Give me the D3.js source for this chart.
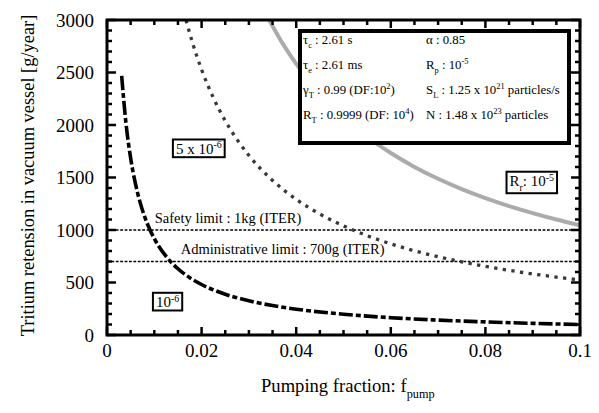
<!DOCTYPE html>
<html>
<head>
<meta charset="utf-8">
<script src="https://cdn.jsdelivr.net/npm/d3@7"></script>
<style>
  body { margin: 0; background: #fff; }
</style>
</head>
<body>
<div id="chart"></div>
<script>
// Tritium retention vs pumping fraction, one series per R_r value
const fpump6 = [0.0031, 0.004, 0.005, 0.006, 0.007, 0.008, 0.009, 0.01, 0.0125, 0.015, 0.0175, 0.02, 0.025, 0.03, 0.035, 0.04, 0.05, 0.06, 0.07, 0.08, 0.09, 0.1];
const retention6 = [2467, 2022, 1684, 1443, 1263, 1122, 1010, 918, 748, 631, 546, 481, 388, 326, 280, 246, 198, 165, 142, 125, 111, 100];

const fpump5x6 = [0.0167, 0.018, 0.02, 0.0225, 0.025, 0.0275, 0.03, 0.035, 0.04, 0.045, 0.05, 0.055, 0.06, 0.065, 0.07, 0.075, 0.08, 0.085, 0.09, 0.095, 0.1];
const retention5x6 = [3000, 2795, 2527, 2258, 2040, 1861, 1710, 1472, 1292, 1152, 1039, 946, 868, 802, 746, 697, 654, 616, 582, 551, 524];

const fpump5 = [0.0343, 0.036, 0.038, 0.04, 0.045, 0.05, 0.055, 0.06, 0.065, 0.07, 0.075, 0.08, 0.085, 0.09, 0.095, 0.1];
const retention5 = [3000, 2863, 2715, 2582, 2300, 2074, 1888, 1733, 1601, 1488, 1390, 1304, 1228, 1161, 1100, 1045];

const limits = [1000, 700];
const limitLabels = ['Safety limit : 1kg (ITER)', 'Administrative limit : 700g (ITER)'];

const xTicks = [0, 0.02, 0.04, 0.06, 0.08, 0.1];
const xTickLabels = ['0', '0.02', '0.04', '0.06', '0.08', '0.1'];
const yTicks = [0, 500, 1000, 1500, 2000, 2500, 3000];

const largura = 599, altura = 413;
const m = { left: 107, right: 580, top: 20, bottom: 335 };
const fonte = "'Liberation Serif', 'Times New Roman', serif";

const svg = d3.select('#chart').append('svg')
    .attr('width', largura)
    .attr('height', altura)
    .attr('viewBox', '0 0 ' + largura + ' ' + altura)
    .attr('font-family', fonte);

const x = d3.scaleLinear().domain([0, 0.1]).range([m.left, m.right]);
const y = d3.scaleLinear().domain([0, 3000]).range([m.bottom, m.top]);

// rich text helper: parts = [[text, 'n' | 'sub' | 'sup'], ...]
const rich = (g, px, py, parts, size, anchor) => {
    const t = g.append('text')
        .attr('x', px).attr('y', py)
        .attr('font-size', size)
        .attr('text-anchor', anchor || 'start');
    let shift = 0;
    parts.forEach(([s, kind]) => {
        let target = 0;
        if (kind === 'sub') target = size * 0.32;
        if (kind === 'sup') target = -size * 0.38;
        t.append('tspan')
            .attr('dy', target - shift)
            .attr('font-size', kind === 'n' ? size : size * 0.66)
            .text(s);
        shift = target;
    });
    return t;
};

svg.append('defs').append('clipPath').attr('id', 'plot')
    .append('rect')
    .attr('x', m.left).attr('y', m.top)
    .attr('width', m.right - m.left).attr('height', m.bottom - m.top);

// limit lines
svg.append('g').selectAll('line')
    .data(limits)
    .enter()
    .append('line')
    .attr('x1', m.left).attr('x2', m.right)
    .attr('y1', d => y(d)).attr('y2', d => y(d))
    .attr('stroke', '#000')
    .attr('stroke-width', 1.6)
    .attr('stroke-dasharray', '2.8,1.6');

// curves
const linha = d3.line()
    .x(d => x(d[0]))
    .y(d => y(d[1]))
    .curve(d3.curveMonotoneX);

const curvas = svg.append('g').attr('clip-path', 'url(#plot)');

curvas.append('path')
    .attr('d', linha(d3.zip(fpump5, retention5)))
    .attr('fill', 'none')
    .attr('stroke', '#ababab')
    .attr('stroke-width', 4);

curvas.append('path')
    .attr('d', linha(d3.zip(fpump5x6, retention5x6)))
    .attr('fill', 'none')
    .attr('stroke', '#383838')
    .attr('stroke-width', 3.3)
    .attr('stroke-dasharray', '3.3,5.4');

curvas.append('path')
    .attr('d', linha(d3.zip(fpump6, retention6)))
    .attr('fill', 'none')
    .attr('stroke', '#000')
    .attr('stroke-width', 3.6)
    .attr('stroke-dasharray', '14,3,5,3');

// limit labels
rich(svg, x(0.0101), y(1067), [[limitLabels[0], 'n']], 14.5);
rich(svg, x(0.0156), y(771), [[limitLabels[1], 'n']], 14.5);

// boxed curve labels
const boxLabel = (fx, vy, parts) => {
    const g = svg.append('g');
    const r = g.append('rect');
    const t = rich(g, x(fx), vy, parts, 15, 'middle');
    const b = t.node().getBBox();
    r.attr('x', b.x - 3).attr('y', b.y)
        .attr('width', b.width + 6).attr('height', b.height)
        .attr('fill', '#fff')
        .attr('stroke', '#000')
        .attr('stroke-width', 2);
};
boxLabel(0.0128, y(262), [['10', 'n'], ['-6', 'sup']]);
boxLabel(0.0194, y(1722), [['5 x 10', 'n'], ['-6', 'sup']]);
boxLabel(0.0898, y(1415), [['R', 'n'], ['r', 'sub'], [': 10', 'n'], ['-5', 'sup']]);

// parameter box
const leg = svg.append('g');
leg.append('rect')
    .attr('x', 300).attr('y', 31)
    .attr('width', 269).attr('height', 112)
    .attr('fill', '#fff')
    .attr('stroke', '#000')
    .attr('stroke-width', 4);
const col1 = 303, col2 = 426;
const linhas = [44, 68.5, 94, 119];
const fs = 12.8;
rich(leg, col1, linhas[0], [['τ', 'n'], ['c', 'sub'], [' : 2.61 s', 'n']], fs);
rich(leg, col2, linhas[0], [['α : 0.85', 'n']], fs);
rich(leg, col1, linhas[1], [['τ', 'n'], ['e', 'sub'], [' : 2.61 ms', 'n']], fs);
rich(leg, col2, linhas[1], [['R', 'n'], ['p', 'sub'], [' : 10', 'n'], ['-5', 'sup']], fs);
rich(leg, col1, linhas[2], [['γ', 'n'], ['T', 'sub'], [' : 0.99 (DF:10', 'n'], ['2', 'sup'], [')', 'n']], fs);
rich(leg, col2, linhas[2], [['S', 'n'], ['L', 'sub'], [' : 1.25 x 10', 'n'], ['21', 'sup'], [' particles/s', 'n']], fs);
rich(leg, col1, linhas[3], [['R', 'n'], ['T', 'sub'], [' : 0.9999 (DF: 10', 'n'], ['4', 'sup'], [')', 'n']], fs);
rich(leg, col2, linhas[3], [['N : 1.48 x 10', 'n'], ['23', 'sup'], [' particles', 'n']], fs);

// axes: ticks inside on all four sides
const eixos = svg.append('g');
const xMinor = d3.range(0, 0.1001, 0.005);
const yMinor = d3.range(0, 3001, 100);

const tick = (x1, y1, x2, y2, w) => eixos.append('line')
    .attr('x1', x1).attr('y1', y1).attr('x2', x2).attr('y2', y2)
    .attr('stroke', '#000').attr('stroke-width', w);

xMinor.forEach(v => {
    const major = xTicks.some(t => Math.abs(t - v) < 1e-9);
    const len = major ? 8 : 5;
    tick(x(v), m.bottom, x(v), m.bottom - len, 2.5);
    tick(x(v), m.top, x(v), m.top + len, 2.5);
});
yMinor.forEach(v => {
    const major = yTicks.includes(v);
    const len = major ? 9 : 5;
    tick(m.left, y(v), m.left + len, y(v), 2.5);
    tick(m.right, y(v), m.right - len, y(v), 2.5);
});

eixos.append('rect')
    .attr('x', m.left).attr('y', m.top)
    .attr('width', m.right - m.left).attr('height', m.bottom - m.top)
    .attr('fill', 'none')
    .attr('stroke', '#000')
    .attr('stroke-width', 3);

// tick labels
svg.append('g').selectAll('text')
    .data(xTicks)
    .enter()
    .append('text')
    .attr('x', d => x(d))
    .attr('y', 357)
    .attr('text-anchor', 'middle')
    .attr('font-size', 19)
    .text((d, i) => xTickLabels[i]);

svg.append('g').selectAll('text')
    .data(yTicks)
    .enter()
    .append('text')
    .attr('x', 94)
    .attr('y', d => y(d) + 6.5)
    .attr('text-anchor', 'end')
    .attr('font-size', 19)
    .text(d => d);

// axis titles
rich(svg, 261, 392, [['Pumping fraction: f', 'n'], ['pump', 'sub']], 18.6);

svg.append('text')
    .attr('transform', 'translate(34,' + ((m.top + m.bottom) / 2 - 2) + ') rotate(-90)')
    .attr('text-anchor', 'middle')
    .attr('font-size', 18.4)
    .text('Tritium retension in vacuum vessel [g/year]');
</script>
</body>
</html>
